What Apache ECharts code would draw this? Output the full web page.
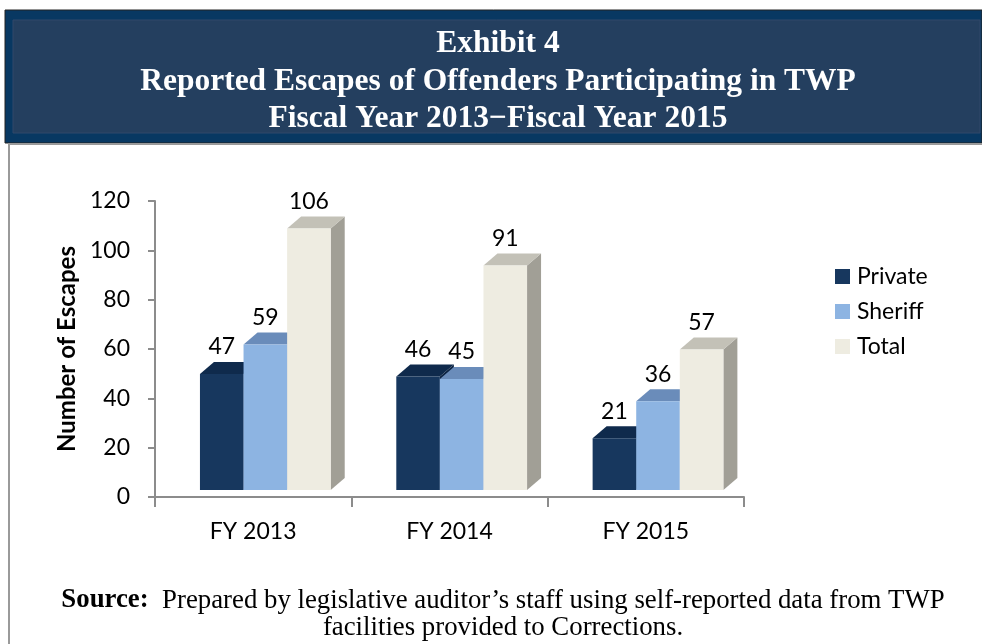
<!DOCTYPE html>
<html>
<head>
<meta charset="utf-8">
<script src="https://cdn.jsdelivr.net/npm/echarts@6/dist/echarts.min.js"></script>
<style>
html,body{margin:0;padding:0;background:#fff;}
#chart{width:982px;height:644px;}
</style>
</head>
<body>
<div id="chart"></div>
<script>
const categories = ['FY 2013', 'FY 2014', 'FY 2015'];
const seriesNames = ['Private', 'Sheriff', 'Total'];
const privateVals = [47, 46, 21];
const sheriffVals = [59, 45, 36];
const totalVals = [106, 91, 57];
const yMin = 0, yMax = 120, yStep = 20;

const faceColors = [
  { front: '#17375e', top: '#0f2a4c', side: '#0d2443' },
  { front: '#8db4e2', top: '#6a8cba', side: '#6f93c2' },
  { front: '#eeece1', top: '#c3c1b7', side: '#a19f96' }
];
const allVals = [privateVals, sheriffVals, totalVals];

const chart = echarts.init(document.getElementById('chart'), null, { renderer: 'canvas' });

function makeRender(k) {
  const col = faceColors[k];
  return function (params, api) {
    const idx = api.value(0), v = api.value(1);
    const c = api.coord([idx, v]);
    const c0 = api.coord([idx, 0]);
    const catW = api.size([1, 0])[0];
    const bw = catW * 0.222;
    const shift = catW * 0.062;
    const xL = c[0] + shift + (k - 1.5) * bw;
    const xR = xL + bw;
    const yB = c0[1] - 7, yT = c[1] - 7;
    const dx = 14, dy = 12;
    return {
      type: 'group',
      children: [
        { type: 'polygon', shape: { points: [[xR, yT], [xR + dx, yT - dy], [xR + dx, yB - dy], [xR, yB]] }, style: { fill: col.side } },
        { type: 'polygon', shape: { points: [[xL, yT], [xL + dx, yT - dy], [xR + dx, yT - dy], [xR, yT]] }, style: { fill: col.top } },
        { type: 'rect', shape: { x: xL, y: yT, width: bw, height: yB - yT }, style: { fill: col.front } },
        { type: 'text', x: xL + bw / 2, y: yT - dy - 15, style: { text: String(v), fill: '#000', font: '23px Lato', textAlign: 'center', textVerticalAlign: 'middle' } }
      ]
    };
  };
}

const series = seriesNames.map((name, k) => ({
  name: name,
  type: 'custom',
  renderItem: makeRender(k),
  itemStyle: { color: faceColors[k].front },
  encode: { x: 0, y: 1 },
  data: allVals[k].map((v, i) => [i, v]),
  z: 2 + k
}));

const option = {
  animation: false,
  backgroundColor: '#ffffff',
  grid: { left: 155, right: 238, top: 201, bottom: 147, containLabel: false },
  legend: {
    data: seriesNames,
    orient: 'vertical',
    left: 835,
    top: 265,
    padding: 0,
    icon: 'rect',
    itemWidth: 15,
    itemHeight: 15,
    itemGap: 12,
    textStyle: { fontFamily: 'Lato', fontSize: 23, color: '#000', padding: [0, 0, 0, 2] }
  },
  xAxis: {
    type: 'category',
    data: categories,
    axisLine: { lineStyle: { color: '#8c8c8c', width: 2 } },
    axisTick: { show: true, length: 10, lineStyle: { color: '#8c8c8c', width: 2 } },
    axisLabel: { fontFamily: 'Lato', fontSize: 23, color: '#000', margin: 23 },
    splitLine: { show: false }
  },
  yAxis: {
    type: 'value',
    min: yMin, max: yMax, interval: yStep,
    name: 'Number of Escapes',
    nameLocation: 'middle',
    nameRotate: 90,
    nameGap: 68,
    nameTextStyle: { fontFamily: 'Lato', fontSize: 24, fontWeight: 'bold', color: '#000' },
    axisLine: { show: true, lineStyle: { color: '#8c8c8c', width: 2 } },
    axisTick: { show: true, length: 7, lineStyle: { color: '#8c8c8c', width: 2 } },
    axisLabel: { fontFamily: 'Lato', fontSize: 23, color: '#000', margin: 25 },
    splitLine: { show: false }
  },
  graphic: [
    { type: 'rect', shape: { x: 5, y: 10, width: 977, height: 133 }, style: { fill: '#083862', stroke: '#222', lineWidth: 1 }, z: 0 },
    { type: 'rect', shape: { x: 13, y: 20, width: 967, height: 113 }, style: { fill: '#243f5f', stroke: '#30496a', lineWidth: 1 }, z: 1 },
    { type: 'line', shape: { x1: 9, y1: 144, x2: 982, y2: 144 }, style: { stroke: '#9a9a9a', lineWidth: 2 }, z: 1 },
    { type: 'line', shape: { x1: 9, y1: 143, x2: 9, y2: 644 }, style: { stroke: '#9a9a9a', lineWidth: 2 }, z: 1 },
    { type: 'text', x: 498, y: 25.5, z: 2, style: { text: 'Exhibit 4\nReported Escapes of Offenders Participating in TWP\nFiscal Year 2013\u2212Fiscal Year 2015', fill: '#ffffff', font: 'bold 31.5px "Liberation Serif"', textAlign: 'center', lineHeight: 37.5 } },
    { type: 'text', x: 503, y: 587, z: 2, style: {
        text: '{b|Source:}  Prepared by legislative auditor\u2019s staff using self-reported data from TWP\nfacilities provided to Corrections.',
        fill: '#000', font: '26.8px "Liberation Serif"', textAlign: 'center', lineHeight: 27,
        rich: { b: { font: 'bold 26.8px "Liberation Serif"', fill: '#000', lineHeight: 27 } }
      } }
  ],
  series: series
};
chart.setOption(option);
</script>
</body>
</html>
